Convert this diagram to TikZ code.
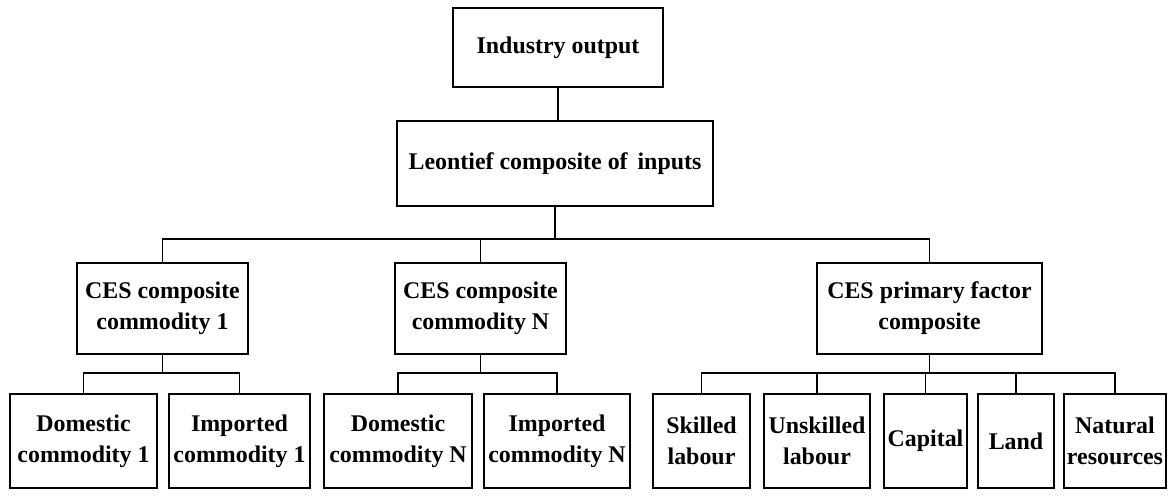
\documentclass[tikz,border=0pt]{standalone}
\usepackage{fontspec}
\setmainfont{Liberation Serif}
\begin{document}
\begin{tikzpicture}[box/.style={draw, line width=1.2pt, inner sep=0pt, align=center, font=\fontsize{17}{22}\selectfont\bfseries},
  link/.style={line width=1pt}]
\useasboundingbox (0,0) rectangle (29.225,12.55);
\node[box, minimum width=5.25cm, minimum height=1.975cm] (out) at (13.95,11.36) {Industry output};
\node[box, minimum width=7.9cm, minimum height=2.125cm] (leon) at (13.875,8.4625) {Leontief composite of \,inputs};
\coordinate (bus) at (0,6.575);
\coordinate (busa) at (0,3.225);
\node[box, minimum width=4.275cm, minimum height=2.275cm] (ces1) at (4.0625,4.8375) {CES composite\\commodity 1};
\node[box, minimum width=4.275cm, minimum height=2.275cm] (cesn) at (12.0125,4.8375) {CES composite\\commodity N};
\node[box, minimum width=5.625cm, minimum height=2.275cm] (cesp) at (23.2375,4.8375) {CES primary factor\\composite};
\node[box, minimum width=3.675cm, minimum height=2.35cm] (dom1) at (2.0875,1.525) {Domestic\\commodity 1};
\node[box, minimum width=3.525cm, minimum height=2.35cm] (imp1) at (5.9875,1.525) {Imported\\commodity 1};
\node[box, minimum width=3.7cm, minimum height=2.35cm] (domn) at (9.95,1.525) {Domestic\\commodity N};
\node[box, minimum width=3.65cm, minimum height=2.35cm] (impn) at (13.925,1.525) {Imported\\commodity N};
\node[box, minimum width=2.425cm, minimum height=2.35cm] (skil) at (17.5375,1.525) {Skilled\\labour};
\node[box, minimum width=2.65cm, minimum height=2.35cm] (unsk) at (20.425,1.525) {Unskilled\\labour};
\node[box, minimum width=2.075cm, minimum height=2.35cm] (capi) at (23.1375,1.525) {Capital};
\node[box, minimum width=1.9cm, minimum height=2.35cm] (land) at (25.4,1.525) {Land};
\node[box, minimum width=2.55cm, minimum height=2.35cm] (natr) at (27.875,1.525) {Natural\\resources};
\draw[link] (out.south) -- (out.south |- leon.north);
\draw[link] (leon.south) -- (leon.south |- bus);
\draw[link] (ces1.north) -- (ces1.north |- bus) -| (cesp.north);
\draw[link] (cesn.north) -- (cesn.north |- bus);
\draw[link] (ces1.south) -- (ces1.south |- busa);
\draw[link] (dom1.north) -- (dom1.north |- busa) -| (imp1.north);
\draw[link] (cesn.south) -- (cesn.south |- busa);
\draw[link] (domn.north) -- (domn.north |- busa) -| (impn.north);
\draw[link] (cesp.south) -- (cesp.south |- busa);
\draw[link] (skil.north) -- (skil.north |- busa) -| (natr.north);
\foreach \n in {unsk,capi,land} \draw[link] (\n.north) -- (\n.north |- busa);
\end{tikzpicture}
\end{document}
